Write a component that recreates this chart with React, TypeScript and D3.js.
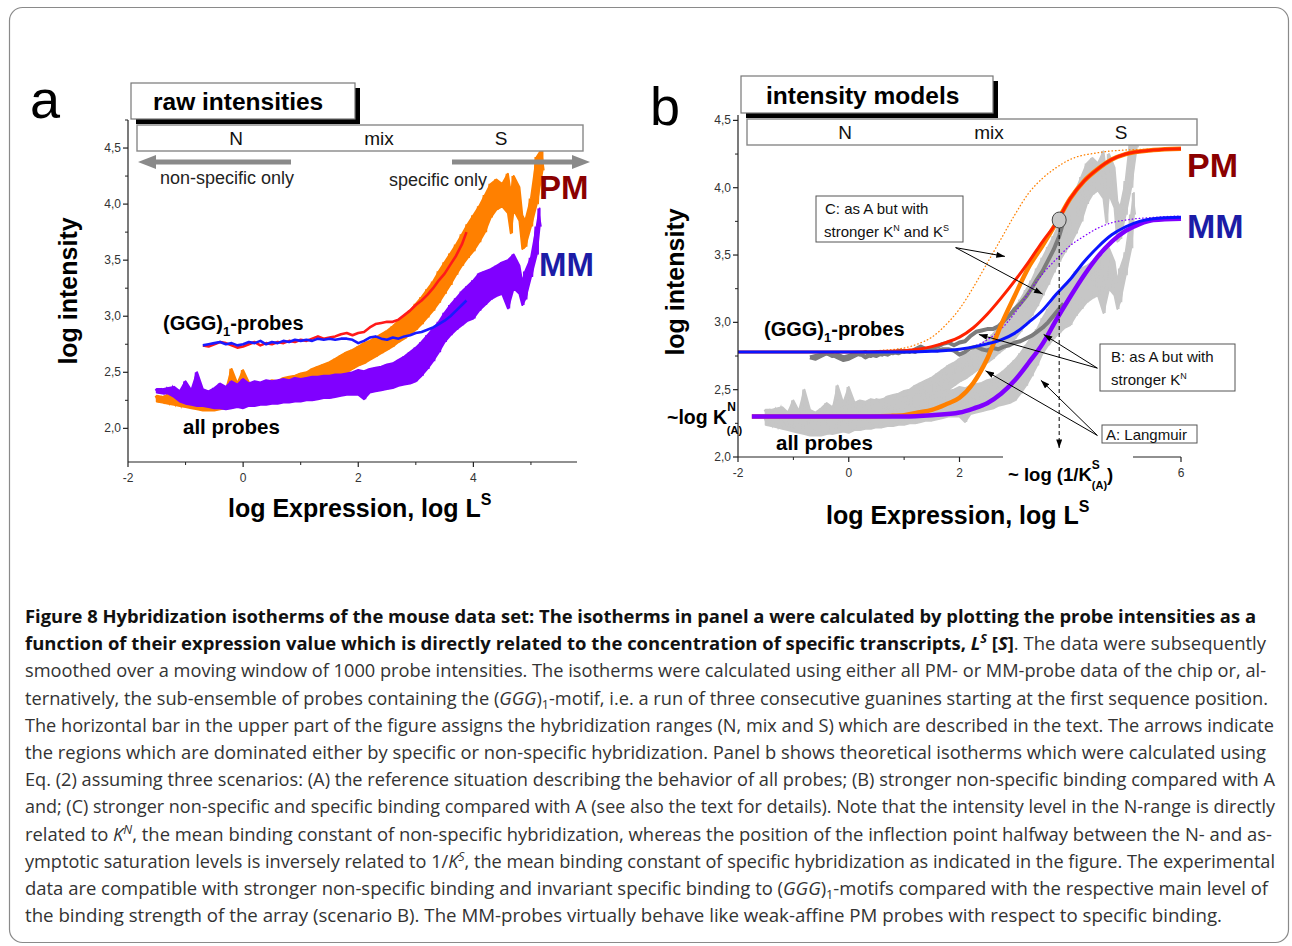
import React from "react";
import * as d3 from "d3";

type Band = [number, number, number];
type Pt = [number, number];

// ---------- Panel a: measured isotherms [logL, low, high] ----------
const pmAll: Band[] = [
  [-1.5, 2.24, 2.29], [-1.4, 2.23, 2.28], [-1.3, 2.22, 2.3], [-1.2, 2.21, 2.28], [-1.1, 2.2, 2.31],
  [-1.0, 2.19, 2.29], [-0.9, 2.18, 2.33], [-0.8, 2.17, 2.27], [-0.7, 2.16, 2.3], [-0.6, 2.16, 2.32],
  [-0.5, 2.16, 2.3], [-0.4, 2.17, 2.36], [-0.3, 2.18, 2.34], [-0.2, 2.19, 2.53], [-0.1, 2.2, 2.4],
  [0.0, 2.21, 2.52], [0.1, 2.22, 2.41], [0.2, 2.23, 2.38], [0.3, 2.24, 2.4], [0.4, 2.25, 2.41],
  [0.5, 2.26, 2.43], [0.6, 2.27, 2.42], [0.7, 2.28, 2.45], [0.8, 2.3, 2.46], [0.9, 2.31, 2.47],
  [1.0, 2.33, 2.49], [1.1, 2.34, 2.5], [1.2, 2.36, 2.53], [1.3, 2.38, 2.55], [1.4, 2.4, 2.57],
  [1.5, 2.42, 2.59], [1.6, 2.44, 2.62], [1.7, 2.47, 2.65], [1.8, 2.5, 2.68], [1.9, 2.53, 2.7],
  [2.0, 2.56, 2.73], [2.1, 2.58, 2.76], [2.2, 2.61, 2.78], [2.3, 2.64, 2.81], [2.4, 2.67, 2.84],
  [2.5, 2.7, 2.87], [2.6, 2.73, 2.91], [2.7, 2.77, 2.96], [2.8, 2.8, 3.0], [2.9, 2.84, 3.05],
  [3.0, 2.88, 3.11], [3.1, 2.93, 3.17], [3.2, 2.99, 3.24], [3.3, 3.05, 3.31], [3.4, 3.12, 3.4],
  [3.5, 3.2, 3.48], [3.6, 3.28, 3.56], [3.7, 3.37, 3.64], [3.8, 3.45, 3.73], [3.9, 3.52, 3.82],
  [4.0, 3.58, 3.9], [4.1, 3.66, 3.98], [4.2, 3.75, 4.08], [4.3, 3.88, 4.18], [4.4, 3.95, 4.22],
  [4.5, 3.98, 4.18], [4.6, 3.92, 4.27], [4.65, 3.74, 4.1], [4.7, 3.95, 4.25], [4.8, 3.85, 4.15],
  [4.85, 3.6, 3.9], [4.9, 3.62, 3.85], [5.0, 3.8, 4.05], [5.1, 4.0, 4.42], [5.2, 4.3, 4.5],
];

const mmAll: Band[] = [
  [-1.5, 2.32, 2.35], [-1.4, 2.31, 2.35], [-1.3, 2.31, 2.36], [-1.2, 2.28, 2.37], [-1.1, 2.24, 2.33],
  [-1.0, 2.22, 2.42], [-0.9, 2.21, 2.34], [-0.8, 2.2, 2.5], [-0.7, 2.2, 2.35], [-0.6, 2.19, 2.33],
  [-0.5, 2.18, 2.36], [-0.4, 2.18, 2.4], [-0.3, 2.17, 2.37], [-0.2, 2.18, 2.42], [-0.1, 2.19, 2.39],
  [0.0, 2.18, 2.44], [0.1, 2.2, 2.4], [0.2, 2.2, 2.42], [0.3, 2.21, 2.41], [0.4, 2.21, 2.43],
  [0.5, 2.22, 2.42], [0.6, 2.22, 2.43], [0.7, 2.23, 2.44], [0.8, 2.23, 2.43], [0.9, 2.24, 2.45],
  [1.0, 2.24, 2.44], [1.1, 2.25, 2.45], [1.2, 2.25, 2.46], [1.3, 2.26, 2.46], [1.4, 2.27, 2.47],
  [1.5, 2.27, 2.47], [1.6, 2.28, 2.48], [1.7, 2.29, 2.48], [1.8, 2.3, 2.49], [1.9, 2.3, 2.5],
  [2.0, 2.3, 2.52], [2.1, 2.26, 2.51], [2.2, 2.32, 2.53], [2.3, 2.33, 2.54], [2.4, 2.34, 2.55],
  [2.5, 2.35, 2.57], [2.6, 2.36, 2.58], [2.7, 2.38, 2.61], [2.8, 2.39, 2.64], [2.9, 2.4, 2.68],
  [3.0, 2.42, 2.72], [3.1, 2.47, 2.77], [3.2, 2.53, 2.83], [3.3, 2.6, 2.89], [3.4, 2.68, 2.95],
  [3.5, 2.77, 3.03], [3.6, 2.83, 3.1], [3.7, 2.88, 3.16], [3.8, 2.92, 3.22], [3.9, 2.96, 3.27],
  [4.0, 2.98, 3.32], [4.1, 3.05, 3.38], [4.2, 3.1, 3.4], [4.3, 3.15, 3.42], [4.4, 3.18, 3.45],
  [4.5, 3.2, 3.48], [4.6, 3.07, 3.5], [4.7, 3.25, 3.55], [4.8, 3.2, 3.45], [4.85, 3.1, 3.3],
  [4.9, 3.15, 3.4], [5.0, 3.35, 3.52], [5.1, 3.55, 3.8], [5.15, 3.8, 3.96],
];

const pmGGG: Pt[] = [
  [-0.7, 2.74], [-0.6, 2.73], [-0.5, 2.75], [-0.4, 2.77], [-0.3, 2.76], [-0.2, 2.74], [-0.1, 2.72],
  [0.0, 2.73], [0.1, 2.75], [0.2, 2.77], [0.3, 2.74], [0.4, 2.76], [0.5, 2.75], [0.6, 2.77],
  [0.7, 2.76], [0.8, 2.78], [0.9, 2.77], [1.0, 2.79], [1.1, 2.78], [1.2, 2.8], [1.3, 2.82],
  [1.4, 2.8], [1.5, 2.81], [1.6, 2.82], [1.7, 2.84], [1.8, 2.85], [1.9, 2.83], [2.0, 2.85],
  [2.1, 2.86], [2.2, 2.9], [2.3, 2.93], [2.4, 2.94], [2.5, 2.95], [2.6, 2.95], [2.7, 2.97],
  [2.8, 3.01], [2.9, 3.05], [3.0, 3.1], [3.1, 3.14], [3.2, 3.19], [3.3, 3.25], [3.4, 3.32],
  [3.5, 3.38], [3.6, 3.46], [3.7, 3.54], [3.8, 3.64], [3.88, 3.75],
];

const mmGGG: Pt[] = [
  [-0.7, 2.74], [-0.6, 2.75], [-0.5, 2.76], [-0.4, 2.77], [-0.3, 2.75], [-0.2, 2.76], [-0.1, 2.74],
  [0.0, 2.75], [0.1, 2.77], [0.2, 2.76], [0.3, 2.78], [0.4, 2.75], [0.5, 2.77], [0.6, 2.76],
  [0.7, 2.78], [0.8, 2.77], [0.9, 2.79], [1.0, 2.78], [1.1, 2.79], [1.2, 2.78], [1.3, 2.8],
  [1.4, 2.79], [1.5, 2.8], [1.6, 2.79], [1.7, 2.8], [1.8, 2.8], [1.9, 2.79], [2.0, 2.76],
  [2.1, 2.78], [2.2, 2.81], [2.3, 2.82], [2.4, 2.8], [2.5, 2.79], [2.6, 2.81], [2.7, 2.8],
  [2.8, 2.82], [2.9, 2.83], [3.0, 2.85], [3.1, 2.86], [3.2, 2.88], [3.3, 2.9], [3.4, 2.93],
  [3.5, 2.96], [3.6, 3.0], [3.7, 3.05], [3.8, 3.1], [3.88, 3.14],
];

// ---------- Panel b: model isotherms ----------
const modelPMA: Pt[] = [
  [-1.75, 2.3], [0, 2.3], [0.75, 2.305], [1.0, 2.31], [1.25, 2.33], [1.5, 2.35], [1.75, 2.39],
  [2.0, 2.44], [2.25, 2.55], [2.5, 2.73], [2.75, 2.98], [3.0, 3.2], [3.25, 3.41], [3.5, 3.57],
  [3.75, 3.74], [4.0, 3.92], [4.25, 4.05], [4.5, 4.14], [4.75, 4.21], [5.0, 4.25], [5.5, 4.28], [6.0, 4.29],
];
const modelPMB: Pt[] = [
  [-2, 2.78], [0, 2.78], [0.75, 2.785], [1.0, 2.79], [1.25, 2.8], [1.5, 2.82], [1.75, 2.85],
  [2.0, 2.89], [2.25, 2.96], [2.5, 3.06], [2.75, 3.18], [3.0, 3.31], [3.25, 3.45], [3.5, 3.6],
  [3.75, 3.74], [4.0, 3.92], [4.25, 4.05], [4.5, 4.14], [4.75, 4.21], [5.0, 4.25], [5.5, 4.28], [6.0, 4.29],
];
const modelPMC: Pt[] = [
  [0.5, 2.79], [1.0, 2.81], [1.25, 2.84], [1.5, 2.89], [1.75, 2.98], [2.0, 3.1], [2.25, 3.26],
  [2.5, 3.44], [2.75, 3.62], [3.0, 3.8], [3.25, 3.96], [3.5, 4.07], [3.75, 4.15], [4.0, 4.21],
  [4.5, 4.26], [5.0, 4.28], [6.0, 4.29],
];
const modelMMA: Pt[] = [
  [-1.75, 2.3], [0, 2.3], [1.0, 2.3], [1.5, 2.31], [2.0, 2.33], [2.25, 2.36], [2.5, 2.4],
  [2.75, 2.47], [3.0, 2.57], [3.25, 2.7], [3.5, 2.84], [3.75, 3.02], [4.0, 3.19], [4.25, 3.35],
  [4.5, 3.49], [4.75, 3.6], [5.0, 3.68], [5.25, 3.73], [5.5, 3.76], [6.0, 3.77],
];
const modelMMB: Pt[] = [
  [-2, 2.78], [0, 2.78], [1.0, 2.78], [1.5, 2.785], [2.0, 2.8], [2.5, 2.84], [2.75, 2.87],
  [3.0, 2.92], [3.25, 3.0], [3.5, 3.09], [3.75, 3.21], [4.0, 3.32], [4.25, 3.45], [4.5, 3.56],
  [4.75, 3.65], [5.0, 3.71], [5.25, 3.75], [5.5, 3.77], [6.0, 3.78],
];
const modelMMC: Pt[] = [
  [1.5, 2.79], [2.0, 2.8], [2.25, 2.82], [2.5, 2.87], [2.75, 2.95], [3.0, 3.07], [3.25, 3.22],
  [3.5, 3.36], [3.75, 3.47], [4.0, 3.57], [4.25, 3.64], [4.5, 3.7], [4.75, 3.74], [5.0, 3.76],
  [5.5, 3.78], [6.0, 3.79],
];
const inflection: Pt = [3.8, 3.76];

// annotation arrows (data coords): [from, to]
const arrowsC: [Pt, Pt][] = [[[1.93, 3.555], [2.82, 3.49]], [[1.93, 3.555], [3.5, 3.21]]];
const arrowsB: [Pt, Pt][] = [[[4.49, 2.66], [2.35, 2.91]], [[4.49, 2.66], [3.52, 2.91]]];
const arrowsA: [Pt, Pt][] = [[[4.49, 2.16], [2.47, 2.64]], [[4.49, 2.16], [3.47, 2.57]]];

// ticks
const yMajor = [2.0, 2.5, 3.0, 3.5, 4.0, 4.5];
const yMinorA = [2.25, 2.75, 3.25, 3.75, 4.25, 4.75];
const yMinorB = [2.25, 2.75, 3.25, 3.75, 4.25];
const xMajorA = [-2, 0, 2, 4];
const xMinorA = [-1, 1, 3, 5];
const xMajorB = [-2, 0, 2, 6];
const xMinorB = [-1, 1];

// caption
type Seg = { t: string; b?: boolean; i?: boolean; sup?: boolean; sub?: boolean };
const captionLines: { end: number; segs: Seg[] }[] = [
  { end: 1256, segs: [{ t: "Figure 8 Hybridization isotherms of the mouse data set: The isotherms in panel a were calculated by plotting the probe intensities as a", b: true }] },
  { end: 1266, segs: [
    { t: "function of their expression value which is directly related to the concentration of specific transcripts, ", b: true },
    { t: "L", b: true, i: true }, { t: "S", b: true, i: true, sup: true }, { t: "    [", b: true },
    { t: "S", b: true, i: true }, { t: "]", b: true }, { t: ". The data were subsequently" }] },
  { end: 1266, segs: [{ t: "smoothed over a moving window of 1000 probe intensities. The isotherms were calculated using either all PM- or MM-probe data of the chip or, al-" }] },
  { end: 1268, segs: [
    { t: "ternatively, the sub-ensemble of probes containing the (" }, { t: "GGG", i: true }, { t: ")" },
    { t: "1", sub: true }, { t: "-motif, i.e. a run of three consecutive guanines starting at the first sequence position." }] },
  { end: 1274, segs: [{ t: "The horizontal bar in the upper part of the figure assigns the hybridization ranges (N, mix and S) which are described in the text. The arrows indicate" }] },
  { end: 1266, segs: [{ t: "the regions which are dominated either by specific or non-specific hybridization. Panel b shows theoretical isotherms which were calculated using" }] },
  { end: 1275, segs: [{ t: "Eq. (2) assuming three scenarios: (A) the reference situation describing the behavior of all probes; (B) stronger non-specific binding compared with A" }] },
  { end: 1275, segs: [{ t: "and; (C) stronger non-specific and specific binding compared with A (see also the text for details). Note that the intensity level in the N-range is directly" }] },
  { end: 1272, segs: [
    { t: "related to " }, { t: "K", i: true }, { t: "N", i: true, sup: true },
    { t: ", the mean binding constant of non-specific hybridization, whereas the position of the inflection point halfway between the N- and as-" }] },
  { end: 1275, segs: [
    { t: "ymptotic saturation levels is inversely related to 1/" }, { t: "K", i: true }, { t: "S", i: true, sup: true },
    { t: ", the mean binding constant of specific hybridization as indicated in the figure. The experimental" }] },
  { end: 1268, segs: [
    { t: "data are compatible with stronger non-specific binding and invariant specific binding to (" }, { t: "GGG", i: true },
    { t: ")" }, { t: "1", sub: true }, { t: "-motifs compared with the respective main level of" }] },
  { end: 1222, segs: [{ t: "the binding strength of the array (scenario B). The MM-probes virtually behave like weak-affine PM probes with respect to specific binding." }] },
];

const fmt = (v: number) => d3.format(".1f")(v).replace(".", ",");
const ARIAL = "'Liberation Sans', Arial, sans-serif";

const xA = d3.scaleLinear().domain([-2, 5.8]).range([128, 577]);
const yA = d3.scaleLinear().domain([1.7, 4.75]).range([462, 120]);
const xB = d3.scaleLinear().domain([-2, 6]).range([738, 1181]);
const yB = d3.scaleLinear().domain([2.0, 4.54]).range([457, 115]);

function zig(data: Band[]): Pt[] {
  const out: Pt[] = [];
  data.forEach((d) => {
    out.push([d[0] - 0.025, d[2]]);
    out.push([d[0] + 0.025, d[1]]);
  });
  return out;
}

function NoisyBand({ data, x, y, color }: { data: Band[]; x: any; y: any; color: string }) {
  const area = d3.area<Band>().x((d) => x(d[0])).y0((d) => y(d[1])).y1((d) => y(d[2]));
  const line = d3.line<Pt>().x((d) => x(d[0])).y((d) => y(d[1]));
  return (
    <g>
      <path d={area(data) || ""} fill={color} stroke={color} strokeWidth={2} strokeLinejoin="round" />
      <path d={line(zig(data)) || ""} fill="none" stroke={color} strokeWidth={1.6} />
    </g>
  );
}

function Curve({ data, x, y, color, width, dash, curve }: any) {
  const line = d3.line<Pt>().x((d) => x(d[0])).y((d) => y(d[1])).curve(curve || d3.curveLinear);
  return <path d={line(data) || ""} fill="none" stroke={color} strokeWidth={width} strokeDasharray={dash} strokeLinejoin="round" strokeLinecap={dash ? "round" : "butt"} />;
}

function YAxis({ y, x0, top, bottom, minor }: any) {
  return (
    <g fontFamily={ARIAL} fontSize={12} fill="#333">
      <line x1={x0} x2={x0} y1={top} y2={bottom} stroke="#222" strokeWidth={1.2} />
      {yMajor.map((v) => (
        <g key={v}>
          <line x1={x0 - 5} x2={x0} y1={y(v)} y2={y(v)} stroke="#222" strokeWidth={1.2} />
          <text x={x0 - 7} y={y(v) + 4} textAnchor="end">{fmt(v)}</text>
        </g>
      ))}
      {minor.map((v: number) => (
        <line key={v} x1={x0 - 3} x2={x0} y1={y(v)} y2={y(v)} stroke="#222" strokeWidth={1} />
      ))}
    </g>
  );
}

function XTicks({ x, y0, major, minor }: any) {
  return (
    <g fontFamily={ARIAL} fontSize={12} fill="#333">
      {major.map((v: number) => (
        <g key={v}>
          <line x1={x(v)} x2={x(v)} y1={y0} y2={y0 + 5} stroke="#222" strokeWidth={1.2} />
          <text x={x(v)} y={y0 + 20} textAnchor="middle">{v}</text>
        </g>
      ))}
      {minor.map((v: number) => (
        <line key={v} x1={x(v)} x2={x(v)} y1={y0} y2={y0 + 3} stroke="#222" strokeWidth={1} />
      ))}
    </g>
  );
}

function TitleBox({ x, y, w, h, label, tx }: any) {
  return (
    <g>
      <rect x={x + 5} y={y + 5} width={w} height={h} fill="#000" />
      <rect x={x} y={y} width={w} height={h} fill="#fff" stroke="#777" strokeWidth={1.2} />
      <text x={tx} y={y + h / 2 + 9} fontFamily={ARIAL} fontWeight="bold" fontSize={24.5} fill="#000">{label}</text>
    </g>
  );
}

function RangeBar({ x, y, w, h, pos }: any) {
  const labels = ["N", "mix", "S"];
  return (
    <g>
      <rect x={x} y={y} width={w} height={h} fill="#fff" stroke="#888" strokeWidth={1.4} />
      {labels.map((l, i) => (
        <text key={l} x={pos[i]} y={y + h / 2 + 7} textAnchor="middle" fontFamily={ARIAL} fontSize={19} fill="#111">{l}</text>
      ))}
    </g>
  );
}

function renderSegs(segs: Seg[]) {
  let shift = 0;
  return segs.map((s, i) => {
    const target = s.sup ? -7 : s.sub ? 4 : 0;
    const dy = target - shift;
    shift = target;
    return (
      <tspan key={i} dy={dy !== 0 ? dy : undefined} fontWeight={s.b ? 700 : 400}
        fontStyle={s.i ? "italic" : "normal"} fontSize={s.sup || s.sub ? 12 : undefined}
        fill={s.b ? "#111" : "#333"}>{s.t}</tspan>
    );
  });
}

export default function App() {
  const sharedB = { x: xB, y: yB };
  return (
    <svg width={1292} height={946} style={{ position: "absolute", left: 0, top: 0, background: "#fff" }}
      fontFamily={ARIAL}>
      <defs>
        <marker id="ah" viewBox="0 0 10 7" refX={10} refY={3.5} markerWidth={9} markerHeight={6}
          markerUnits="userSpaceOnUse" orient="auto">
          <path d="M0,0 L10,3.5 L0,7 z" fill="#000" />
        </marker>
      </defs>
      <rect x={9.5} y={7.5} width={1279} height={935} rx={13} fill="none" stroke="#8a8a8a" strokeWidth={1.2} />

      {/* ================= Panel a ================= */}
      <text x={30} y={118} fontSize={54} fill="#000">a</text>
      <NoisyBand data={pmAll} x={xA} y={yA} color="#ff8000" />
      <NoisyBand data={mmAll} x={xA} y={yA} color="#8000ff" />
      <Curve data={pmGGG} x={xA} y={yA} color="#ff1a1a" width={2.6} />
      <Curve data={mmGGG} x={xA} y={yA} color="#1a1aff" width={2.6} />

      <YAxis y={yA} x0={xA(-2)} top={yA(4.75)} bottom={yA(1.7)} minor={yMinorA} />
      <line x1={xA(-2)} x2={xA(5.8)} y1={yA(1.7)} y2={yA(1.7)} stroke="#222" strokeWidth={1.2} />
      <XTicks x={xA} y0={yA(1.7)} major={xMajorA} minor={xMinorA} />

      <TitleBox x={131} y={83} w={224} h={36} label="raw intensities" tx={153} />
      <RangeBar x={137} y={125} w={446} h={26} pos={[236, 379, 501]} />

      <line x1={291} x2={152} y1={162} y2={162} stroke="#8a8a8a" strokeWidth={5} />
      <polygon points="138,162 156,155 156,169" fill="#8a8a8a" />
      <line x1={452} x2={574} y1={162} y2={162} stroke="#8a8a8a" strokeWidth={5} />
      <polygon points="590,162 572,155 572,169" fill="#8a8a8a" />
      <text x={160} y={184} fontSize={18} fill="#222">non-specific only</text>
      <text x={389} y={186} fontSize={18} fill="#222">specific only</text>

      <text x={539} y={199} fontSize={33} fontWeight="bold" fill="#8b0000">PM</text>
      <text x={539} y={276} fontSize={33} fontWeight="bold" fill="#1c1ca6">MM</text>

      <text x={163} y={330} fontSize={20} fontWeight="bold" fill="#000">
        (GGG)<tspan dy={6} fontSize={13}>1</tspan><tspan dy={-6}>-probes</tspan>
      </text>
      <text x={183} y={434} fontSize={20.5} fontWeight="bold" fill="#000">all probes</text>

      <text transform="translate(77,291) rotate(-90)" textAnchor="middle" fontSize={25} fontWeight="bold" fill="#000">log intensity</text>
      <text x={228} y={517} fontSize={25} fontWeight="bold" fill="#000">
        log Expression, log L<tspan dy={-12} fontSize={16}>S</tspan>
      </text>

      {/* ================= Panel b ================= */}
      <text x={650} y={125} fontSize={54} fill="#000">b</text>

      <NoisyBand data={pmAll} {...sharedB} color="#c6c6c6" />
      <NoisyBand data={mmAll} {...sharedB} color="#c6c6c6" />
      <Curve data={pmGGG} {...sharedB} color="#7c7c7c" width={4} />
      <Curve data={mmGGG} {...sharedB} color="#7c7c7c" width={4} />

      <Curve data={modelPMC} {...sharedB} color="#ff8000" width={1.3} dash="0.5,3" curve={d3.curveMonotoneX} />
      <Curve data={modelMMC} {...sharedB} color="#8000ff" width={1.3} dash="0.5,3" curve={d3.curveMonotoneX} />
      <Curve data={modelPMA} {...sharedB} color="#ff8000" width={4.5} curve={d3.curveMonotoneX} />
      <Curve data={modelMMA} {...sharedB} color="#8000ff" width={4.5} curve={d3.curveMonotoneX} />
      <Curve data={modelPMB} {...sharedB} color="#ff2200" width={3} curve={d3.curveMonotoneX} />
      <Curve data={modelMMB} {...sharedB} color="#0a14ff" width={3} curve={d3.curveMonotoneX} />

      <line x1={xB(inflection[0])} x2={xB(inflection[0])} y1={yB(inflection[1]) + 8} y2={yB(2.067)}
        stroke="#000" strokeWidth={1} strokeDasharray="4,3" markerEnd="url(#ah)" />
      <ellipse cx={xB(inflection[0])} cy={yB(inflection[1])} rx={7} ry={8} fill="#c8c8c8" stroke="#444" strokeWidth={1} />

      {[...arrowsC, ...arrowsB, ...arrowsA].map((a, i) => (
        <line key={i} x1={xB(a[0][0])} y1={yB(a[0][1])} x2={xB(a[1][0])} y2={yB(a[1][1])}
          stroke="#000" strokeWidth={1} markerEnd="url(#ah)" />
      ))}

      <YAxis y={yB} x0={xB(-2)} top={yB(4.54)} bottom={yB(2.0)} minor={yMinorB} />
      <line x1={xB(-2)} x2={1003} y1={yB(2)} y2={yB(2)} stroke="#222" strokeWidth={1.2} />
      <line x1={1133} x2={xB(6)} y1={yB(2)} y2={yB(2)} stroke="#222" strokeWidth={1.2} />
      <XTicks x={xB} y0={yB(2)} major={xMajorB} minor={xMinorB} />

      <TitleBox x={741} y={76} w={252} h={37} label="intensity models" tx={766} />
      <RangeBar x={747} y={119} w={450} h={26} pos={[845, 989, 1121]} />

      <text x={1187} y={177} fontSize={34} fontWeight="bold" fill="#8b0000">PM</text>
      <text x={1187} y={238} fontSize={34} fontWeight="bold" fill="#1c1ca6">MM</text>

      <text x={764} y={336} fontSize={20} fontWeight="bold" fill="#000">
        (GGG)<tspan dy={6} fontSize={13}>1</tspan><tspan dy={-6}>-probes</tspan>
      </text>
      <text x={776} y={450} fontSize={20.5} fontWeight="bold" fill="#000">all probes</text>

      <text x={667} y={424} fontSize={19.5} fontWeight="bold" fill="#000">
        ~log K<tspan dy={-13} fontSize={12}>N</tspan><tspan dx={-9} dy={23} fontSize={11}>(A)</tspan>
      </text>

      <text x={1008} y={481} fontSize={18.5} fontWeight="bold" fill="#000">
        ~ log (1/K<tspan dy={-12} fontSize={12}>S</tspan><tspan dx={-8} dy={20} fontSize={11}>(A)</tspan><tspan dy={-8}>)</tspan>
      </text>

      <g fontSize={15} fill="#111">
        <rect x={816} y={196} width={147} height={46} fill="#fff" stroke="#555" strokeWidth={1} />
        <text x={825} y={214}>C: as A but with</text>
        <text x={824} y={237}>stronger K<tspan dy={-6} fontSize={9}>N</tspan><tspan dy={6}> and K</tspan><tspan dy={-6} fontSize={9}>S</tspan></text>

        <rect x={1100} y={344} width={135} height={47} fill="#fff" stroke="#555" strokeWidth={1} />
        <text x={1111} y={362}>B: as A but with</text>
        <text x={1111} y={385}>stronger K<tspan dy={-6} fontSize={9}>N</tspan></text>

        <rect x={1102} y={425} width={95} height={18} fill="#fff" stroke="#555" strokeWidth={1} />
        <text x={1106} y={440}>A: Langmuir</text>
      </g>

      <text transform="translate(684,282) rotate(-90)" textAnchor="middle" fontSize={25} fontWeight="bold" fill="#000">log intensity</text>
      <text x={826} y={524} fontSize={25} fontWeight="bold" fill="#000">
        log Expression, log L<tspan dy={-12} fontSize={16}>S</tspan>
      </text>

      {/* ================= Caption ================= */}
      <g fontFamily="'Open Sans', 'Noto Sans', sans-serif" fontSize={17.5} style={{ whiteSpace: "pre" }}>
        {captionLines.map((ln, i) => (
          <text key={i} x={25} y={623 + i * 27.2} textLength={ln.end - 25} lengthAdjust="spacingAndGlyphs">
            {renderSegs(ln.segs)}
          </text>
        ))}
      </g>
    </svg>
  );
}
